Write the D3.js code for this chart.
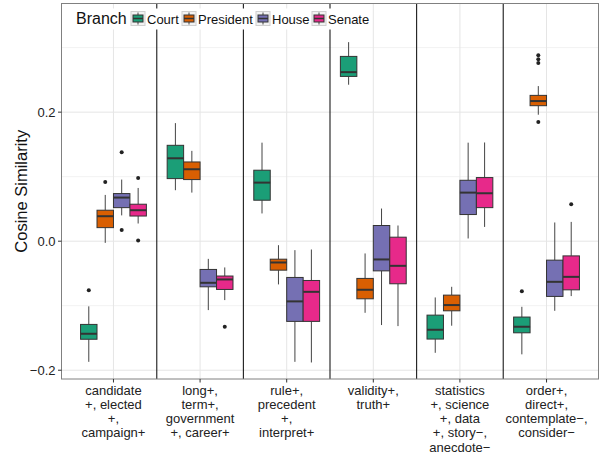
<!DOCTYPE html>
<html>
<head>
<meta charset="utf-8">
<script src="https://cdn.jsdelivr.net/npm/d3@7"></script>
<style>
  html, body { margin: 0; padding: 0; background: #fff; }
  text { font-family: "Liberation Sans", Arial, sans-serif; }
</style>
</head>
<body>
<svg id="chart" width="602" height="454"></svg>
<script>
// ---- Data ----
const categories = [
  ["candidate", "+, elected", "+,", "campaign+"],
  ["long+,", "term+,", "government", "+, career+"],
  ["rule+,", "precedent", "+,", "interpret+"],
  ["validity+,", "truth+"],
  ["statistics", "+, science", "+, data", "+, story\u2212,", "anecdote\u2212"],
  ["order+,", "direct+,", "contemplate\u2212,", "consider\u2212"]
];
const branches = ["Court", "President", "House", "Senate"];
const colors = ["#1B9E77", "#D95F02", "#7570B3", "#E7298A"];
const yTicks = [-0.2, 0.0, 0.2];
const yMinor = [-0.1, 0.1, 0.3];

// [lower whisker, q1, median, q3, upper whisker] per category
const courtStats = [
  [-0.187, -0.152, -0.1435, -0.129, -0.101],
  [0.079, 0.097, 0.1285, 0.1486, 0.183],
  [0.043, 0.0635, 0.0908, 0.110, 0.1527],
  [0.2425, 0.2554, 0.262, 0.2864, 0.3085],
  [-0.173, -0.1517, -0.1373, -0.1146, -0.0872],
  [-0.1754, -0.142, -0.1326, -0.1176, -0.1017]
];
const presidentStats = [
  [-0.0026, 0.021, 0.0387, 0.048, 0.0717],
  [0.0753, 0.0955, 0.1115, 0.1228, 0.140],
  [-0.067, -0.0449, -0.033, -0.0279, -0.0062],
  [-0.111, -0.0893, -0.0753, -0.0577, -0.019],
  [-0.131, -0.1079, -0.099, -0.0836, -0.0707],
  [0.196, 0.210, 0.2172, 0.226, 0.2404]
];
const houseStats = [
  [0.040, 0.052, 0.0676, 0.0738, 0.0955],
  [-0.1068, -0.0707, -0.0645, -0.0438, -0.0274],
  [-0.187, -0.1243, -0.0933, -0.0562, -0.0139],
  [-0.130, -0.046, -0.0283, 0.0243, 0.0506],
  [0.0042, 0.0413, 0.0753, 0.0944, 0.1527],
  [-0.1079, -0.0856, -0.063, -0.0294, 0.029]
];
const senateStats = [
  [0.0274, 0.039, 0.048, 0.0573, 0.0825],
  [-0.0913, -0.0748, -0.0593, -0.054, -0.0407],
  [-0.188, -0.1243, -0.0785, -0.0609, -0.0129],
  [-0.1316, -0.066, -0.0382, 0.0062, 0.0243],
  [0.0221, 0.052, 0.0743, 0.0986, 0.153],
  [-0.0851, -0.0754, -0.0553, -0.0228, 0.0299]
];
// outliers per category
const courtOutliers = [[-0.076], [], [], [], [], [-0.0774]];
const presidentOutliers = [[0.0918], [], [], [], [], [0.288, 0.282, 0.276, 0.1847]];
const houseOutliers = [[0.1378, 0.0175], [], [], [], [], []];
const senateOutliers = [[0.098, 0.001], [-0.1326], [], [], [], [0.0573]];

const allStats = [courtStats, presidentStats, houseStats, senateStats];
const allOutliers = [courtOutliers, presidentOutliers, houseOutliers, senateOutliers];

// ---- Layout ----
const svg = d3.select("#chart");
const L = 61.5, R = 598.5, T = 3.5, B = 379;

const x = d3.scaleLinear().domain([0.4, categories.length + 0.6]).range([L, R]);
const y = d3.scaleLinear().domain([-0.2136, 0.3684]).range([B, T]);
const boxW = 0.19;
const offsets = [-1.5, -0.5, 0.5, 1.5].map(k => k * boxW);

// panel background
svg.append("rect").attr("x", L).attr("y", T).attr("width", R - L).attr("height", B - T)
  .attr("fill", "#fff");

// grid
const grid = svg.append("g");
yMinor.forEach(v => {
  grid.append("line").attr("x1", L).attr("x2", R).attr("y1", y(v)).attr("y2", y(v))
    .attr("stroke", "#f2f2f2").attr("stroke-width", 1);
});
yTicks.forEach(v => {
  grid.append("line").attr("x1", L).attr("x2", R).attr("y1", y(v)).attr("y2", y(v))
    .attr("stroke", "#e5e5e5").attr("stroke-width", 1);
});
categories.forEach((c, i) => {
  grid.append("line").attr("x1", x(i + 1)).attr("x2", x(i + 1)).attr("y1", T).attr("y2", B)
    .attr("stroke", "#e5e5e5").attr("stroke-width", 1);
});

// separators
for (let i = 1; i < categories.length; i++) {
  svg.append("line").attr("x1", x(i + 0.5)).attr("x2", x(i + 0.5)).attr("y1", T).attr("y2", B)
    .attr("stroke", "#1a1a1a").attr("stroke-width", 1.1);
}

// boxes
const marks = svg.append("g");
branches.forEach((b, bi) => {
  allStats[bi].forEach((s, ci) => {
    const cx = x(ci + 1 + offsets[bi]);
    const hw = (x(boxW) - x(0)) / 2;
    const [lo, q1, med, q3, hi] = s;
    marks.append("line").attr("x1", cx).attr("x2", cx).attr("y1", y(hi)).attr("y2", y(q3))
      .attr("stroke", "#444").attr("stroke-width", 1);
    marks.append("line").attr("x1", cx).attr("x2", cx).attr("y1", y(q1)).attr("y2", y(lo))
      .attr("stroke", "#444").attr("stroke-width", 1);
    marks.append("rect").attr("x", cx - hw).attr("y", y(q3)).attr("width", 2 * hw)
      .attr("height", y(q1) - y(q3)).attr("fill", colors[bi])
      .attr("stroke", "#333").attr("stroke-width", 1);
    marks.append("line").attr("x1", cx - hw).attr("x2", cx + hw).attr("y1", y(med)).attr("y2", y(med))
      .attr("stroke", "#333").attr("stroke-width", 2);
    allOutliers[bi][ci].forEach(o => {
      marks.append("circle").attr("cx", cx).attr("cy", y(o)).attr("r", 2)
        .attr("fill", "#222");
    });
  });
});

// panel border
svg.append("rect").attr("x", L).attr("y", T).attr("width", R - L).attr("height", B - T)
  .attr("fill", "none").attr("stroke", "#808080").attr("stroke-width", 1);

// y axis ticks
yTicks.forEach(v => {
  svg.append("line").attr("x1", L - 3.5).attr("x2", L).attr("y1", y(v)).attr("y2", y(v))
    .attr("stroke", "#333").attr("stroke-width", 1);
  svg.append("text").attr("x", L - 6).attr("y", y(v)).attr("dy", "0.36em")
    .attr("text-anchor", "end").attr("font-size", 13).attr("fill", "#222")
    .text(d3.format(".1f")(v).replace("-", "\u2212"));
});

// y axis title
svg.append("text").attr("transform", `translate(27,${(T + B) / 2}) rotate(-90)`)
  .attr("text-anchor", "middle").attr("font-size", 16.5).attr("fill", "#111")
  .text("Cosine Similarity");

// x axis ticks & labels
categories.forEach((lines, i) => {
  svg.append("line").attr("x1", x(i + 1)).attr("x2", x(i + 1)).attr("y1", B).attr("y2", B + 3.5)
    .attr("stroke", "#333");
  const t = svg.append("text").attr("text-anchor", "middle").attr("font-size", 13).attr("fill", "#222");
  lines.forEach((ln, k) => {
    t.append("tspan").attr("x", x(i + 1)).attr("y", 394.5 + k * 14.3).text(ln);
  });
});

// legend
const lg = svg.append("g");
lg.append("rect").attr("x", 66).attr("y", 8.5).attr("width", 305).attr("height", 21).attr("fill", "#fff");
lg.append("text").attr("x", 76).attr("y", 24).attr("font-size", 16).attr("fill", "#111").text("Branch");
const keyX = [131, 182, 256, 312];
branches.forEach((b, bi) => {
  const kx = keyX[bi], ky = 11.5, ks = 14;
  lg.append("rect").attr("x", kx).attr("y", ky).attr("width", ks).attr("height", ks)
    .attr("fill", "#f2f2f2").attr("stroke", "#d0d0d0").attr("stroke-width", 1);
  const c = kx + ks / 2;
  lg.append("line").attr("x1", c).attr("x2", c).attr("y1", ky + 1).attr("y2", ky + ks - 1)
    .attr("stroke", "#444");
  lg.append("rect").attr("x", kx + 2).attr("y", ky + 3.5).attr("width", ks - 4).attr("height", ks - 7)
    .attr("fill", colors[bi]).attr("stroke", "#333").attr("stroke-width", 1);
  lg.append("line").attr("x1", kx + 2).attr("x2", kx + ks - 2).attr("y1", ky + ks / 2).attr("y2", ky + ks / 2)
    .attr("stroke", "#333").attr("stroke-width", 1.5);
  lg.append("text").attr("x", kx + ks + 2).attr("y", 23.5).attr("font-size", 13).attr("fill", "#111").text(b);
});
</script>
</body>
</html>
